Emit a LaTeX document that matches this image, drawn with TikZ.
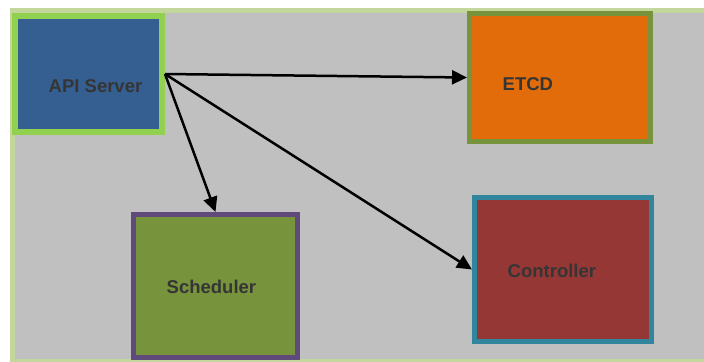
\documentclass[tikz,border=0pt]{standalone}
\usepackage{fontspec}
\setmainfont{Liberation Sans}
\usetikzlibrary{arrows.meta}

\definecolor{panelgray}{HTML}{C0C0C0}
\definecolor{panelrim}{HTML}{C3D69B}
\definecolor{apifill}{HTML}{365F91}
\definecolor{apirim}{HTML}{92D050}
\definecolor{etcdfill}{HTML}{E36C0A}
\definecolor{etcdrim}{HTML}{77933C}
\definecolor{schedfill}{HTML}{77933C}
\definecolor{schedrim}{HTML}{604A7B}
\definecolor{ctrlfill}{HTML}{953735}
\definecolor{ctrlrim}{HTML}{31859C}
\definecolor{labelink}{HTML}{353535}

\tikzset{
  compbox/.style={rectangle, draw, inner sep=0pt, line width=5bp},
  complabel/.style={anchor=base west, inner sep=0pt, text=labelink,
    font=\fontsize{18.5bp}{20bp}\selectfont\bfseries},
  link/.style={line width=2.5bp, -{Triangle[length=15bp,width=14bp]}}
}

\begin{document}
\begin{tikzpicture}[x=1bp,y=-1bp]
  \useasboundingbox (0,0) rectangle (704,361);
  \clip (0,0) rectangle (704,361);

  % backdrop panel
  \path[fill=panelgray, draw=panelrim, line width=5bp]
    (12.5,10.5) rectangle (720,361.5);

  % components
  \node[compbox, fill=apifill, draw=apirim, line width=6bp,
        minimum width=147bp, minimum height=116bp] (api) at (88.5,74) {};
  \node[compbox, fill=etcdfill, draw=etcdrim,
        minimum width=181bp, minimum height=128bp] (etcd) at (560,77.5) {};
  \node[compbox, fill=schedfill, draw=schedrim,
        minimum width=164bp, minimum height=143bp] (sched) at (215.5,286) {};
  \node[compbox, fill=ctrlfill, draw=ctrlrim,
        minimum width=177bp, minimum height=144bp] (ctrl) at (563,269.5) {};

  % labels
  \node[complabel] (apilbl) at (48.5,92.5) {API Server};
  \node[complabel] (etcdlbl) at (502.5,90) {ETCD};
  \node[complabel] (schedlbl) at (166.5,293) {Scheduler};
  \node[complabel] (ctrllbl) at (507.5,277) {Controller};

  % connections
  \draw[link] (api.east) -- (etcd.west);
  \draw[link] (api.east) -- (sched.north);
  \draw[link] (api.east) -- (ctrl.west);
\end{tikzpicture}
\end{document}
